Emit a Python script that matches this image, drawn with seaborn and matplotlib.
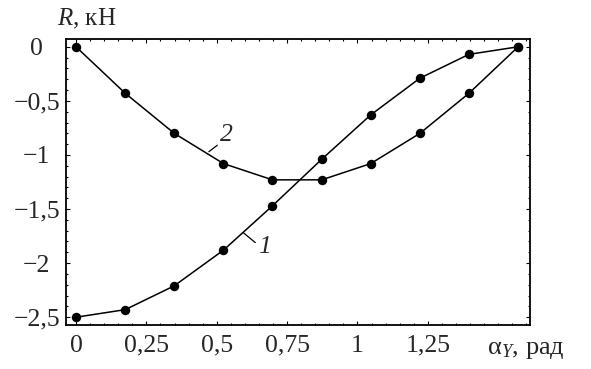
import matplotlib
matplotlib.use("Agg")
import matplotlib.pyplot as plt
import seaborn as sns
import pandas as pd
from matplotlib.ticker import AutoMinorLocator

# ---- data ----
alpha = [0.0, 0.175, 0.349, 0.524, 0.698, 0.873, 1.047, 1.222, 1.396, 1.571]
curve1 = [-2.50, -2.43, -2.21, -1.88, -1.47, -1.04, -0.63, -0.29, -0.07, 0.0]
curve2 = [0.0, -0.43, -0.80, -1.08, -1.23, -1.23, -1.08, -0.80, -0.43, 0.0]

xtick_vals = [0, 0.25, 0.5, 0.75, 1.0, 1.25]
xtick_labels = ["0", "0,25", "0,5", "0,75", "1", "1,25"]
ytick_vals = [0, -0.5, -1.0, -1.5, -2.0, -2.5]
ytick_labels = ["0", "\u22120,5", "\u22121", "\u22121,5", "\u22122", "\u22122,5"]

curve_names = ["1", "2"]

df = pd.DataFrame({
    "alpha": alpha * 2,
    "R": curve1 + curve2,
    "curve": [curve_names[0]] * len(alpha) + [curve_names[1]] * len(alpha),
})

sns.set_theme(style="white")
plt.rcParams["font.family"] = ["Liberation Serif", "DejaVu Serif"]
plt.rcParams["mathtext.fontset"] = "custom"
plt.rcParams["mathtext.rm"] = "Liberation Serif"
plt.rcParams["mathtext.it"] = "Liberation Serif:italic"

fig = plt.figure(figsize=(5.91, 3.69), dpi=100)
ax = fig.add_axes([66 / 591, 1 - 325 / 369, (530 - 66) / 591, (325 - 39) / 369])

sns.lineplot(data=df, x="alpha", y="R", hue="curve", palette=["black", "black"],
             sort=False, marker="o", markersize=6.8, markeredgewidth=0,
             linewidth=1.1, legend=False, ax=ax)

ax.set_xlim(-0.0355, 1.613)
ax.set_ylim(-2.572, 0.072)

ax.set_xticks(xtick_vals, labels=xtick_labels)
ax.set_yticks(ytick_vals, labels=ytick_labels)
ax.xaxis.set_minor_locator(AutoMinorLocator(5))
ax.yaxis.set_minor_locator(AutoMinorLocator(5))
ax.tick_params(which="both", direction="in", top=True, right=True,
               bottom=True, left=True, color="black", width=0.8)
ax.tick_params(which="major", length=3.2)
ax.tick_params(which="minor", length=1.6)
ax.tick_params(axis="x", which="major", labelsize=18.5, pad=7)
ax.tick_params(axis="y", which="major", labelsize=18.5, pad=21)
for lab in ax.get_yticklabels():
    lab.set_horizontalalignment("center")

for sp in ax.spines.values():
    sp.set_color("black")
    sp.set_linewidth(1.3)

ax.set_xlabel("")
ax.set_ylabel("")

# curve labels with leader lines
ax.plot([0.472, 0.502], [-0.97, -0.91], color="black", lw=0.9)
ax.text(0.536, -0.818, "2", fontsize=18.5, fontstyle="italic", ha="center", va="center")
ax.plot([0.595, 0.637], [-1.72, -1.81], color="black", lw=0.9)
ax.text(0.67, -1.85, "1", fontsize=18.5, fontstyle="italic", ha="center", va="center")

fig.text(57 / 591, 1 - 25 / 369, "$R$, кН", fontsize=18, ha="left", va="baseline")
fig.text(487 / 591, 1 - 354 / 369, "\u03b1$_{Y}$, рад", fontsize=19, ha="left", va="baseline")

fig.savefig("out.png", dpi=100, facecolor="white")
